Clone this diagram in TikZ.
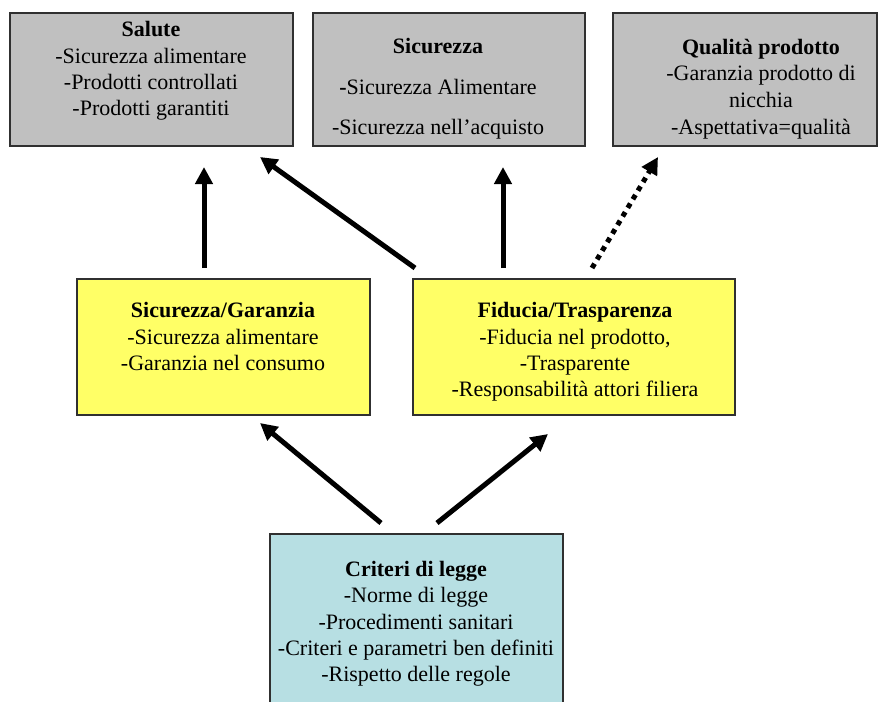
\documentclass[tikz,border=0pt]{standalone}
\usepackage{fontspec}
\setmainfont{Liberation Serif}
\usetikzlibrary{arrows.meta}
\definecolor{boxgray}{HTML}{C0C0C0}
\definecolor{boxyellow}{HTML}{FFFF66}
\definecolor{boxcyan}{HTML}{B7DFE3}
\definecolor{boxline}{HTML}{303030}
\tikzset{
  box/.style={draw=boxline, line width=1.5pt},
  txt/.style={align=center, inner sep=0pt, font=\fontsize{22}{26.3}\selectfont},
  arr/.style={line width=5pt, -{Triangle[length=17pt,width=17pt]}},
  dotarr/.style={line width=5pt, dash pattern=on 5pt off 5pt, -{Triangle[length=17pt,width=17pt]}},
}
\begin{document}
\begin{tikzpicture}[x=1pt,y=-1pt]
\useasboundingbox (0,0) rectangle (879,702);
% boxes
\draw[box, fill=boxgray] (10,13) rectangle (293,146);
\draw[box, fill=boxgray] (313,13) rectangle (585,146);
\draw[box, fill=boxgray] (613,13) rectangle (877,146);
\draw[box, fill=boxyellow] (77,279) rectangle (370,415);
\draw[box, fill=boxyellow] (413,279) rectangle (735,415);
\draw[box, fill=boxcyan] (270,534) rectangle (563,720);
% texts
\node[txt] (salute) at (151,71) {\textbf{Salute}\\-Sicurezza alimentare\\-Prodotti controllati\\-Prodotti garantiti};
\node[txt, font=\fontsize{22}{40.5}\selectfont] (sicurezza) at (438,89) {\textbf{Sicurezza}\\\textbf{-}Sicurezza Alimentare\\-Sicurezza nell’acquisto};
\node[txt, font=\fontsize{22}{26.7}\selectfont] (qualita) at (761,89) {\textbf{Qualità prodotto}\\-Garanzia prodotto di\\nicchia\\-Aspettativa=qualità};
\node[txt] (sicgar) at (223,336.5) {\textbf{Sicurezza/Garanzia}\\-Sicurezza alimentare\\-Garanzia nel consumo};
\node[txt] (fiducia) at (575,352) {\textbf{Fiducia/Trasparenza}\\-Fiducia nel prodotto,\\-Trasparente\\-Responsabilità attori filiera};
\node[txt] (criteri) at (416,624) {\textbf{Criteri di legge}\\-Norme di legge\\-Procedimenti sanitari\\-Criteri e parametri ben definiti\\-Rispetto delle regole};
% arrow endpoints
\coordinate (a1s) at (204,268); \coordinate (a1e) at (204,167);
\coordinate (a2s) at (415,268); \coordinate (a2e) at (260,157);
\coordinate (a3s) at (503,268); \coordinate (a3e) at (503,167);
\coordinate (a4s) at (592,268); \coordinate (a4e) at (658,157);
\coordinate (a5s) at (381,523); \coordinate (a5e) at (260,423);
\coordinate (a6s) at (437,523); \coordinate (a6e) at (548,434);
\draw[arr] (a1s) -- (a1e);
\draw[arr] (a2s) -- (a2e);
\draw[arr] (a3s) -- (a3e);
\draw[dotarr] (a4s) -- (a4e);
\draw[arr] (a5s) -- (a5e);
\draw[arr] (a6s) -- (a6e);
\end{tikzpicture}
\end{document}
